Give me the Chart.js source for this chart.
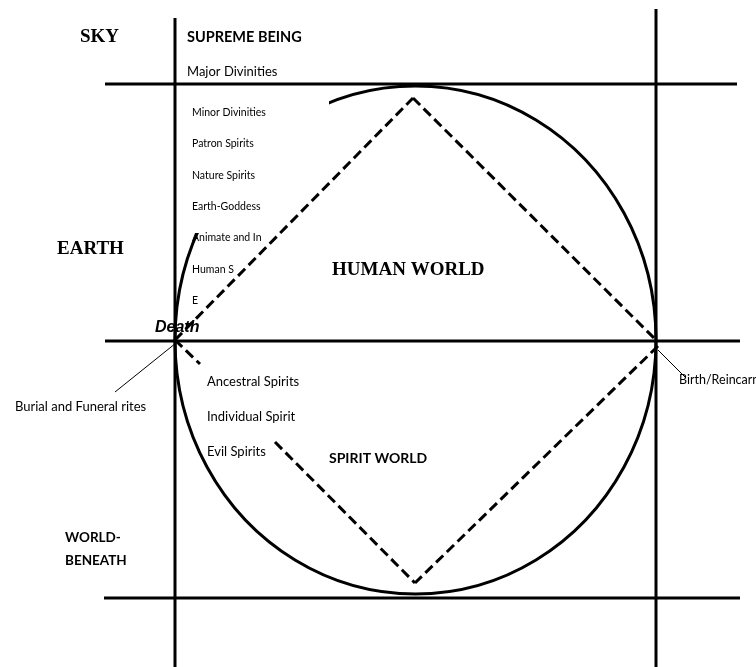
<!DOCTYPE html>
<html>
<head>
<meta charset="utf-8">
<script src="https://cdn.jsdelivr.net/npm/chart.js@4/dist/chart.umd.min.js"></script>
<style>
    html, body { margin: 0; padding: 0; background: #fff; }
    #wrap { width: 756px; height: 667px; }
</style>
</head>
<body>
<div id="wrap"><canvas id="cosmosChart" width="756" height="667"></canvas></div>
<script>
// diagram geometry in page pixels (axes run 0..756 and 0..667, y downwards)
var dividerLines = [
    [[105, 84], [737, 84]],
    [[105, 341], [740, 341]],
    [[104, 598], [740, 598]],
    [[175, 18], [175, 667]],
    [[656, 9], [656, 667]]
]
// twelve points round the ellipse, start and end overlap under the white label box
var ellipsePoints = [
    [295, 120], [207, 213], [175, 340], [207, 467], [295, 560], [415.5, 594], [536, 560],
    [624, 467], [656, 340], [624, 213], [536, 120], [415.5, 86], [295, 120], [207, 213]
]
var diamondSegments = [
    [[175, 340], [413, 98]],
    [[413, 98], [656, 340]],
    [[175, 340], [200, 364]],
    [[275, 442], [415, 583]],
    [[658, 346], [415, 583]]
]
var pointerLines = [
    [[176, 343], [115, 392]],
    [[658, 350], [685, 377]]
]
var labelBoxTop = [[179, 89], [329, 89]]
var labelBoxBottom = [[179, 233], [329, 233]]

var realmLabels = ['SKY', 'EARTH', 'WORLD-', 'BENEATH']
var skyBeings = ['SUPREME BEING', 'Major Divinities']
var earthBeings = ['Minor Divinities', 'Patron Spirits', 'Nature Spirits', 'Earth-Goddess', 'Animate and In', 'Human S', 'E']
var spiritBeings = ['Ancestral Spirits', 'Individual Spirit', 'Evil Spirits']
var worldLabels = ['HUMAN WORLD', 'SPIRIT WORLD']
var eventLabels = ['Death', 'Burial and Funeral rites', 'Birth/Reincarnation']

var sansFont = "Lato, 'Liberation Sans', sans-serif"
var serifFont = "'Liberation Serif', 'DejaVu Serif', serif"

function toPoints(pairs) {
    return pairs.map(function (p) { return { x: p[0], y: p[1] } })
}

function lineSet(pairs, width, dash, order) {
    return {
        data: toPoints(pairs),
        showLine: true,
        borderColor: '#000',
        borderWidth: width,
        borderDash: dash || [],
        pointRadius: 0,
        fill: false,
        order: order
    }
}

function drawText(chart, text, x, y, font) {
    var ctx = chart.ctx
    var sx = chart.scales.x
    var sy = chart.scales.y
    ctx.save()
    ctx.font = font
    ctx.fillStyle = '#000'
    ctx.textAlign = 'left'
    ctx.textBaseline = 'middle'
    ctx.fillText(text, sx.getPixelForValue(x), sy.getPixelForValue(y))
    ctx.restore()
}

var datasets = []
dividerLines.forEach(function (l) { datasets.push(lineSet(l, 3, null, 1)) })
pointerLines.forEach(function (l) { datasets.push(lineSet(l, 1, null, 1)) })
diamondSegments.forEach(function (l) { datasets.push(lineSet(l, 3, [10, 5], 2)) })

var boxTop = lineSet(labelBoxTop, 0, null, 4)
boxTop.fill = '+1'
boxTop.backgroundColor = '#fff'
boxTop.isLabelBox = true
datasets.push(boxTop)
datasets.push(lineSet(labelBoxBottom, 0, null, 4))

var ellipse = lineSet(ellipsePoints, 3, null, 5)
ellipse.tension = 0.351
datasets.push(ellipse)

var labelPlugin = {
    id: 'diagramLabels',
    afterDatasetDraw: function (chart, args) {
        if (!chart.data.datasets[args.index].isLabelBox) return
        var rows = [113, 144, 176, 207, 238, 270, 301]
        earthBeings.forEach(function (t, i) {
            drawText(chart, t, 192, rows[i], '10.5px ' + sansFont)
        })
    },
    afterDatasetsDraw: function (chart) {
        drawText(chart, realmLabels[0], 80, 37, 'bold 19px ' + serifFont)
        drawText(chart, realmLabels[1], 57, 249, 'bold 19px ' + serifFont)
        drawText(chart, realmLabels[2], 65, 538, 'bold 13.5px ' + sansFont)
        drawText(chart, realmLabels[3], 65, 561, 'bold 13.5px ' + sansFont)
        drawText(chart, skyBeings[0], 187, 37, 'bold 14.5px ' + sansFont)
        drawText(chart, skyBeings[1], 187, 72, '13px ' + sansFont)
        var spiritRows = [382, 417, 452]
        spiritBeings.forEach(function (t, i) {
            drawText(chart, t, 207, spiritRows[i], '13px ' + sansFont)
        })
        drawText(chart, worldLabels[0], 332, 270, 'bold 19px ' + serifFont)
        drawText(chart, worldLabels[1], 329, 458, 'bold 14px ' + sansFont)
        drawText(chart, eventLabels[0], 155, 328, 'italic bold 16px ' + "'Liberation Sans', Arial, sans-serif")
        drawText(chart, eventLabels[1], 15, 407, '13px ' + sansFont)
        drawText(chart, eventLabels[2], 679, 380, '12.5px ' + sansFont)
    }
}

new Chart(document.getElementById('cosmosChart'), {
    type: 'scatter',
    data: { datasets: datasets },
    options: {
        responsive: false,
        animation: false,
        layout: { padding: 0 },
        scales: {
            x: { type: 'linear', min: 0, max: 756, display: false },
            y: { type: 'linear', min: 0, max: 667, reverse: true, display: false }
        },
        plugins: {
            legend: { display: false },
            tooltip: { enabled: false }
        }
    },
    plugins: [labelPlugin]
})
</script>
</body>
</html>
